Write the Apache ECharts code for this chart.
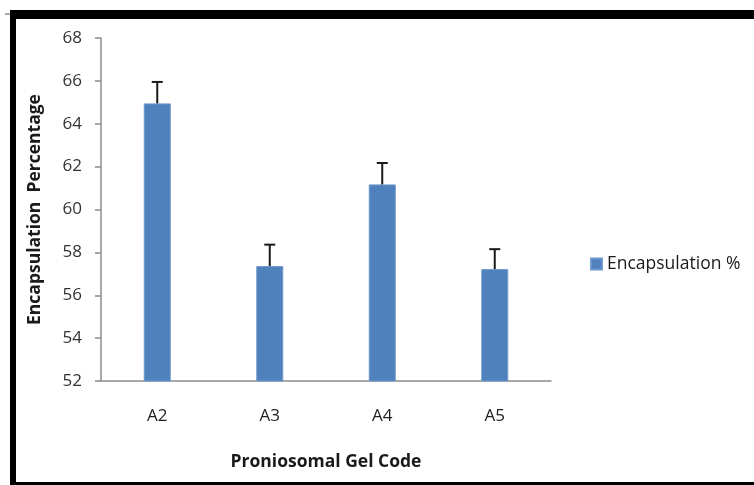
<!DOCTYPE html>
<html><head><meta charset="utf-8">
<script src="https://cdn.jsdelivr.net/npm/echarts@6/dist/echarts.min.js"></script>
<style>html,body{margin:0;padding:0;background:#fff}#c{width:754px;height:485px}</style>
</head><body><div id="c"></div>
<script>
const categories = ['A2', 'A3', 'A4', 'A5'];
const encapsulation = [64.95, 57.36, 61.17, 57.22];
const errors = [1.0, 1.0, 1.0, 0.93];
const yTicks = [52, 54, 56, 58, 60, 62, 64, 66, 68];

const chart = echarts.init(document.getElementById('c'), null, {renderer: 'canvas'});
const font = '"Open Sans", sans-serif';
const option = {
  backgroundColor: '#fff',
  animation: false,
  grid: {left: 101, top: 38, right: 203, bottom: 104},
  legend: {
    data: ['Encapsulation %'], left: 585, top: 250, itemWidth: 11, itemHeight: 11, itemGap: 5,
    icon: 'rect',
    textStyle: {fontFamily: font, fontSize: 17.5, color: '#1a1a1a', padding: [0,0,0,0]}
  },
  xAxis: {
    type: 'category', data: categories,
    axisLine: {lineStyle: {color: '#8c8c8c', width: 1.5}},
    axisTick: {show: false},
    axisLabel: {fontFamily: font, fontSize: 17, color: '#222', margin: 27},
    name: 'Proniosomal Gel Code', nameLocation: 'middle', nameGap: 72,
    nameTextStyle: {fontFamily: font, fontSize: 17.5, fontWeight: 'bold', color: '#1a1a1a'}
  },
  yAxis: {
    type: 'value', min: yTicks[0], max: yTicks[yTicks.length - 1], interval: 2,
    axisLine: {show: true, lineStyle: {color: '#8c8c8c', width: 1.5}},
    axisTick: {show: true, inside: false, length: 6, lineStyle: {color: '#8c8c8c', width: 1.5}},
    splitLine: {show: false},
    axisLabel: {fontFamily: font, fontSize: 17, color: '#333', margin: 19},
    name: 'Encapsulation  Percentage', nameLocation: 'middle', nameGap: 57,
    nameTextStyle: {fontFamily: font, fontSize: 17.5, fontWeight: 'bold', color: '#1a1a1a'}
  },
  series: [
    {
      name: 'Encapsulation %', type: 'bar', data: encapsulation, barWidth: 27,
      itemStyle: {color: '#4F81BD', borderColor: '#6e98cc', borderWidth: 1}
    },
    {
      type: 'custom', name: 'err', silent: true, z: 5,
      data: encapsulation.map((v, i) => [i, v, v + errors[i]]),
      renderItem: function (params, api) {
        const base = api.coord([api.value(0), api.value(1)]);
        const top = api.coord([api.value(0), api.value(2)]);
        const hw = 5.5;
        const st = {stroke: '#1a1a1a', lineWidth: 2};
        return {
          type: 'group', children: [
            {type: 'line', shape: {x1: base[0], y1: base[1], x2: top[0], y2: top[1]}, style: st},
            {type: 'line', shape: {x1: top[0] - hw, y1: top[1], x2: top[0] + hw, y2: top[1]}, style: st}
          ]
        };
      }
    }
  ],
  graphic: [
    {type: 'rect', shape: {x: 10, y: 10, width: 744, height: 9}, style: {fill: '#000'}},
    {type: 'rect', shape: {x: 10, y: 10, width: 6, height: 475}, style: {fill: '#000'}},
    {type: 'rect', shape: {x: 10, y: 482, width: 744, height: 3}, style: {fill: '#000'}},
    {type: 'line', shape: {x1: 5, y1: 14, x2: 10, y2: 14}, style: {stroke: '#555', lineWidth: 1}}
  ]
};
chart.setOption(option);
</script></body></html>
